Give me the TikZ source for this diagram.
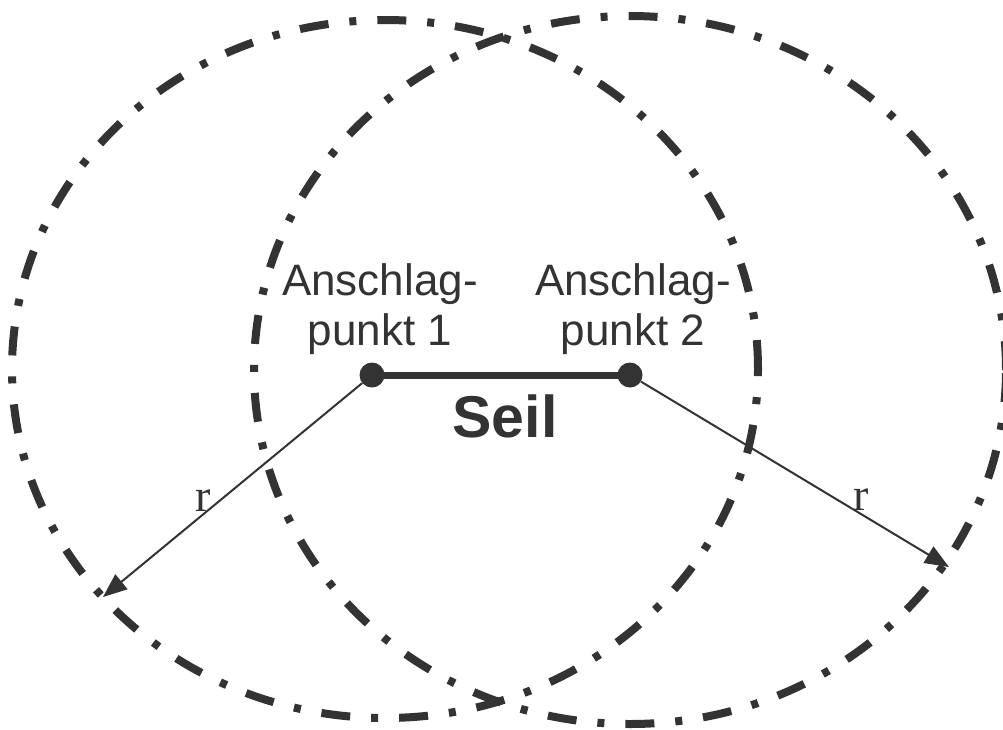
\documentclass[tikz,border=0pt]{standalone}
\usepackage{fontspec}
\setmainfont{Liberation Sans}
\newfontfamily\rfont{Liberation Serif}
\usetikzlibrary{arrows.meta}
\definecolor{ink}{HTML}{333333}
\begin{document}
\begin{tikzpicture}[x=1pt,y=-1pt,
  ring/.style={draw=ink, line width=8pt, dash pattern=on 29pt off 21pt on 7pt off 21pt},
  anchorpt/.style={circle, fill=ink, inner sep=0pt, minimum size=25pt},
  rope/.style={draw=ink, line width=7pt},
  radius line/.style={draw=ink, line width=2pt, -{Triangle[length=24pt,width=19pt]}},
  lbl/.style={text=ink, align=center, font=\fontsize{44}{50}\selectfont, inner sep=0pt},
  rlbl/.style={text=ink, font=\rfont\fontsize{46}{50}\selectfont, inner sep=0pt, anchor=base},
  seil/.style={text=ink, font=\bfseries\fontsize{59}{60}\selectfont, inner sep=0pt, anchor=base}]
\useasboundingbox (0,0) rectangle (1003,729);
\draw[ring] (385,369) ellipse [x radius=373pt, y radius=349pt];
\draw[ring] (630,370) ellipse [x radius=376pt, y radius=354pt];
\node[anchorpt] (p1) at (372,375) {};
\node[anchorpt] (p2) at (630,375) {};
\draw[rope] (p1.center) -- (p2.center);
\coordinate (e1) at (103,597);
\coordinate (e2) at (949,567);
\draw[radius line] (p1) -- (e1);
\draw[radius line] (p2) -- (e2);
\node[lbl, anchor=base] (t1) at (380,345) {Anschlag-\\punkt 1};
\node[lbl, anchor=base] (t2) at (633,345) {Anschlag-\\punkt 2};
\node[seil] (s) at (505,437) {Seil};
\node[rlbl] (r1) at (203,511) {r};
\node[rlbl] (r2) at (861,510) {r};
\end{tikzpicture}
\end{document}
